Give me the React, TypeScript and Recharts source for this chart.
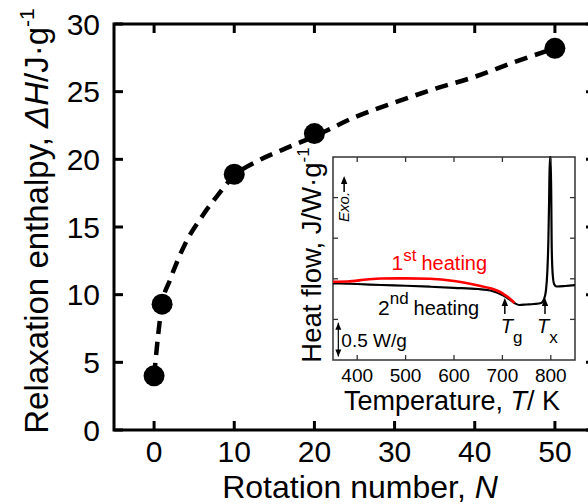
import React from 'react';
import { ComposedChart, Line, Scatter, XAxis, YAxis, ReferenceArea } from 'recharts';

const FONT = '"Liberation Sans", Arial, Helvetica, sans-serif';

// relaxation enthalpy (J/g) against rotation number N
const rotationN = [0, 1, 10, 20, 50];
const enthalpy = [4.0, 9.3, 18.9, 21.9, 28.2];

// dashed guide curve through the measured points
const guideN = [0, 1, 2, 4, 6, 8, 10, 13, 16, 20, 25, 30, 35, 40, 45, 50];
const guideH = [4.0, 9.3, 11.1, 13.9, 15.8, 17.4, 18.8, 19.9, 20.7, 21.7, 23.1, 24.2, 25.2, 26.1, 27.2, 28.2];

const nDomain = [-5, 55];
const hDomain = [0, 30];
const nTicks = [0, 10, 20, 30, 40, 50];
const hTicks = [0, 5, 10, 15, 20, 25, 30];

// DSC traces for the inset, heat flow in W/g (offset)
const secondTemp = [350, 400, 450, 500, 550, 600, 650, 675, 700, 715, 725, 735, 750, 765, 780, 786, 790, 793, 795, 796.5, 798, 800, 802, 804, 807, 812, 830, 850];
const secondFlow = [1.133, 1.123, 1.108, 1.097, 1.083, 1.067, 1.049, 1.027, 0.961, 0.894, 0.842, 0.813, 0.82, 0.828, 0.842, 0.9, 1.03, 1.33, 1.77, 2.36, 3.0, 3.0, 1.63, 1.26, 1.12, 1.086, 1.094, 1.108];

const firstTemp = [350, 380, 420, 450, 500, 550, 600, 650, 675, 700, 715, 725];
const firstFlow = [1.157, 1.16, 1.19, 1.204, 1.207, 1.2, 1.167, 1.101, 1.06, 0.986, 0.909, 0.842];

const tDomain = [350, 850];
const flowDomain = [0, 3];
const tTicks = [400, 500, 600, 700, 800];
const flowTicks = [0.6, 1.2, 1.8, 2.4];

// annotations inside the inset
const markTemps = [705, 788];
const markFlow = [0.916, 0.916];
const markSubs = ['g', 'x'];

const heatingTemps = [471, 443];
const heatingFlow = [1.33, 0.665];
const heatingOrd = ['1', '2'];
const heatingSup = ['st', 'nd'];
const heatingColor = ['#ff0000', '#000000'];

const scaleTemp = 361;
const scaleFlow = [0.05, 0.55];
const exoTemp = 373;
const exoFlow = 2.04;

const points = rotationN.map((n, i) => ({ n, v: enthalpy[i] }));
const guide = guideN.map((n, i) => ({ n, v: guideH[i] }));
const second = secondTemp.map((t, i) => ({ t, v: secondFlow[i] }));
const first = firstTemp.map((t, i) => ({ t, v: firstFlow[i] }));
const marks = markTemps.map((t, i) => ({ t, v: markFlow[i], sub: markSubs[i] }));
const headings = heatingTemps.map((t, i) => ({
  t,
  v: heatingFlow[i],
  ord: heatingOrd[i],
  sup: heatingSup[i],
  color: heatingColor[i],
}));
const scaleBar = scaleFlow.map((v, i) => ({ t: scaleTemp, v, end: i === 0 ? 'down' : 'up' }));
const scaleText = [{ t: scaleTemp, v: (scaleFlow[0] + scaleFlow[1]) / 2 }];
const exo = [{ t: exoTemp, v: exoFlow }];

// plot boxes (px inside each svg), follow from the margins / axis sizes below
const MAIN = { left: 114, right: 595, top: 24, bottom: 430 };
const INSET = { left: 43, right: 285, top: 12, bottom: 215 };

// ticks point inwards on all four sides of the box
const MainXTick = (p: any) => {
  const x = p.x;
  return (
    <g>
      <line x1={x} x2={x} y1={MAIN.bottom} y2={MAIN.bottom - 9} stroke="#000" strokeWidth={3} />
      <line x1={x} x2={x} y1={MAIN.top} y2={MAIN.top + 9} stroke="#000" strokeWidth={3} />
      <text x={x} y={MAIN.bottom + 32} textAnchor="middle" fontSize={30} fontFamily={FONT} fill="#000">
        {p.payload.value}
      </text>
    </g>
  );
};

const MainYTick = (p: any) => {
  const y = p.y;
  return (
    <g>
      <line x1={MAIN.left} x2={MAIN.left + 9} y1={y} y2={y} stroke="#000" strokeWidth={3} />
      <line x1={MAIN.right} x2={MAIN.right - 9} y1={y} y2={y} stroke="#000" strokeWidth={3} />
      <text x={MAIN.left - 14} y={y + 10.5} textAnchor="end" fontSize={30} fontFamily={FONT} fill="#000">
        {p.payload.value}
      </text>
    </g>
  );
};

const InsetXTick = (p: any) => {
  const x = p.x;
  return (
    <g>
      <line x1={x} x2={x} y1={INSET.bottom} y2={INSET.bottom - 5} stroke="#333" strokeWidth={1.3} />
      <line x1={x} x2={x} y1={INSET.top} y2={INSET.top + 5} stroke="#333" strokeWidth={1.3} />
      <text x={x} y={INSET.bottom + 22} textAnchor="middle" fontSize={19} fontFamily={FONT} fill="#000">
        {p.payload.value}
      </text>
    </g>
  );
};

const InsetYTick = (p: any) => {
  const y = p.y;
  return (
    <g>
      <line x1={INSET.left} x2={INSET.left + 5} y1={y} y2={y} stroke="#333" strokeWidth={1.3} />
      <line x1={INSET.right} x2={INSET.right - 5} y1={y} y2={y} stroke="#333" strokeWidth={1.3} />
    </g>
  );
};

const MainYLabel = () => (
  <text
    x={48}
    y={221}
    transform="rotate(-90 48 221)"
    textAnchor="middle"
    fontSize={33}
    fontFamily={FONT}
    fill="#000"
  >
    Relaxation enthalpy, <tspan fontStyle="italic">ΔH</tspan>/J·g
    <tspan fontSize={21} dy={-14}>-1</tspan>
  </text>
);

const MainXLabel = () => (
  <text x={360} y={498} textAnchor="middle" fontSize={32} fontFamily={FONT} fill="#000">
    Rotation number, <tspan fontStyle="italic">N</tspan>
  </text>
);

const InsetYLabel = () => (
  <text
    x={31}
    y={110}
    transform="rotate(-90 31 110)"
    textAnchor="middle"
    fontSize={27.5}
    fontFamily={FONT}
    fill="#000"
  >
    Heat flow, J/W·g<tspan fontSize={17} dy={-12}>-1</tspan>
  </text>
);

const InsetXLabel = () => (
  <text x={162} y={265} textAnchor="middle" fontSize={27} fontFamily={FONT} fill="#000">
    Temperature, <tspan fontStyle="italic">T</tspan>/ K
  </text>
);

const Dot = (p: any) => <circle cx={p.cx} cy={p.cy} r={10.5} fill="#000" />;

const UpArrow = ({ x, y, len }: { x: number; y: number; len: number }) => (
  <g>
    <line x1={x} y1={y + len} x2={x} y2={y + 5} stroke="#000" strokeWidth={1.5} />
    <path d={`M${x - 3.2},${y + 8} L${x},${y} L${x + 3.2},${y + 8} Z`} fill="#000" />
  </g>
);

const MarkShape = (p: any) => {
  const { cx, cy, payload } = p;
  const dx = payload.sub === 'g' ? -4 : -8;
  return (
    <g>
      <UpArrow x={cx} y={cy} len={16} />
      <text x={cx + dx} y={cy + 35} fontSize={20} fontFamily={FONT} fill="#000">
        <tspan fontStyle="italic">T</tspan>
        <tspan fontSize={17} dy={10}>{payload.sub}</tspan>
      </text>
    </g>
  );
};

const HeadingShape = (p: any) => {
  const { cx, cy, payload } = p;
  const up = payload.ord === '1' ? 9 : 11;
  return (
    <text x={cx} y={cy} fontSize={21} fontFamily={FONT} fill={payload.color}>
      {payload.ord}
      <tspan fontSize={17} dy={-up}>{payload.sup}</tspan>
      <tspan fontSize={20} dy={up} dx={5}>heating</tspan>
    </text>
  );
};

const ScaleEnd = (p: any) => {
  const { cx, cy, payload, index } = p;
  const d =
    payload.end === 'up'
      ? `M${cx - 3},${cy + 7} L${cx},${cy} L${cx + 3},${cy + 7} Z`
      : `M${cx - 3},${cy - 7} L${cx},${cy} L${cx + 3},${cy - 7} Z`;
  return <path key={`end-${index}`} d={d} fill="#000" />;
};

const ScaleTextShape = (p: any) => (
  <text x={p.cx + 3} y={p.cy + 7} fontSize={19} fontFamily={FONT} fill="#000">
    0.5 W/g
  </text>
);

const ExoShape = (p: any) => {
  const { cx, cy } = p;
  return (
    <g>
      <text
        x={cx}
        y={cy}
        transform={`rotate(-90 ${cx} ${cy})`}
        dy={5}
        fontSize={15}
        fontStyle="italic"
        fontFamily={FONT}
        fill="#000"
      >
        Exo.
      </text>
      <UpArrow x={cx} y={cy - 46} len={16} />
    </g>
  );
};

export default function App() {
  return (
    <div
      style={{
        position: 'relative',
        width: 588,
        height: 504,
        overflow: 'hidden',
        background: '#fff',
        fontFamily: FONT,
      }}
    >
      <style>{'body{margin:0;overflow:hidden}'}</style>
      <div style={{ position: 'absolute', left: 0, top: 0 }}>
        <ComposedChart width={610} height={504} margin={{ top: 24, right: 15, bottom: 0, left: 0 }}>
          <XAxis
            dataKey="n"
            type="number"
            domain={nDomain}
            ticks={nTicks}
            interval={0}
            height={74}
            axisLine={false}
            tickLine={false}
            tick={MainXTick}
            label={MainXLabel}
          />
          <YAxis
            dataKey="v"
            type="number"
            domain={hDomain}
            ticks={hTicks}
            interval={0}
            width={114}
            axisLine={false}
            tickLine={false}
            tick={MainYTick}
            label={MainYLabel}
          />
          <ReferenceArea
            x1={nDomain[0]}
            x2={nDomain[1]}
            y1={hDomain[0]}
            y2={hDomain[1]}
            fill="none"
            fillOpacity={0}
            stroke="#000"
            strokeWidth={3}
            strokeOpacity={1}
          />
          <Line
            data={guide}
            dataKey="v"
            type="monotone"
            stroke="#000"
            strokeWidth={4.5}
            strokeDasharray="13 8"
            dot={false}
            activeDot={false}
            isAnimationActive={false}
          />
          <Scatter data={points} dataKey="v" shape={Dot} isAnimationActive={false} />
        </ComposedChart>
      </div>

      <div style={{ position: 'absolute', left: 290, top: 145 }}>
        <ComposedChart width={300} height={275} margin={{ top: 12, right: 15, bottom: 0, left: 0 }}>
          <XAxis
            dataKey="t"
            type="number"
            domain={tDomain}
            ticks={tTicks}
            interval={0}
            height={60}
            axisLine={false}
            tickLine={false}
            tick={InsetXTick}
            label={InsetXLabel}
          />
          <YAxis
            dataKey="v"
            type="number"
            domain={flowDomain}
            ticks={flowTicks}
            interval={0}
            width={43}
            axisLine={false}
            tickLine={false}
            tick={InsetYTick}
            label={InsetYLabel}
          />
          <ReferenceArea
            x1={tDomain[0]}
            x2={tDomain[1]}
            y1={flowDomain[0]}
            y2={flowDomain[1]}
            fill="none"
            fillOpacity={0}
            stroke="#333"
            strokeWidth={1.5}
            strokeOpacity={1}
          />
          <Line
            data={second}
            dataKey="v"
            type="monotone"
            stroke="#000"
            strokeWidth={2.2}
            dot={false}
            activeDot={false}
            isAnimationActive={false}
          />
          <Line
            data={first}
            dataKey="v"
            type="monotone"
            stroke="#ff0000"
            strokeWidth={2.6}
            dot={false}
            activeDot={false}
            isAnimationActive={false}
          />
          <Line
            data={scaleBar}
            dataKey="v"
            stroke="#000"
            strokeWidth={1.2}
            dot={ScaleEnd}
            activeDot={false}
            isAnimationActive={false}
          />
          <Scatter data={marks} dataKey="v" shape={MarkShape} isAnimationActive={false} />
          <Scatter data={headings} dataKey="v" shape={HeadingShape} isAnimationActive={false} />
          <Scatter data={scaleText} dataKey="v" shape={ScaleTextShape} isAnimationActive={false} />
          <Scatter data={exo} dataKey="v" shape={ExoShape} isAnimationActive={false} />
        </ComposedChart>
      </div>
    </div>
  );
}
